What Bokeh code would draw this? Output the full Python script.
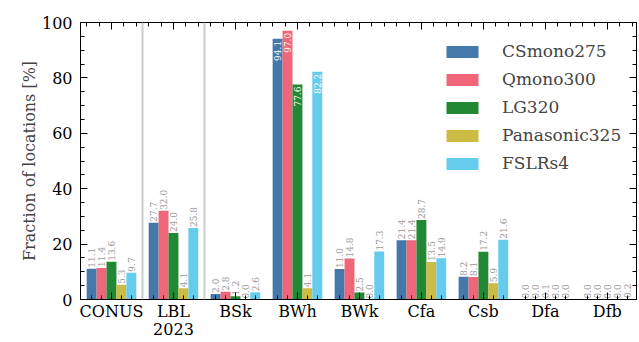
import numpy as np
from bokeh.plotting import figure
from bokeh.models import (Range1d, FixedTicker, LinearAxis, Span,
                          Legend, LegendItem, ColumnDataSource)
from bokeh.core.properties import value
from bokeh.embed import file_html
from bokeh.resources import INLINE

categories = ["CONUS", "LBL\n2023", "BSk", "BWh", "BWk", "Cfa", "Csb", "Dfa", "Dfb"]
series = ["CSmono275", "Qmono300", "LG320", "Panasonic325", "FSLRs4"]
csmono275 = [11.1, 27.7, 2.0, 94.1, 11.0, 21.4, 8.2, 0.0, 0.0]
qmono300 = [11.4, 32.0, 2.8, 97.0, 14.8, 21.4, 8.1, 0.0, 0.0]
lg320 = [13.6, 24.0, 1.2, 77.6, 2.5, 28.7, 17.2, 0.1, 0.0]
panasonic325 = [5.3, 4.1, 0.0, 4.1, 0.0, 13.5, 5.9, 0.0, 0.0]
fslrs4 = [9.7, 25.8, 2.6, 82.2, 17.3, 14.9, 21.6, 0.0, 0.2]
values = [csmono275, qmono300, lg320, panasonic325, fslrs4]
colors = ["#4477AA", "#EE6677", "#228833", "#CCBB44", "#66CCEE"]
y_ticks = [0, 20, 40, 60, 80, 100]

FONT = "DejaVu Serif"
bar_w = 0.16
offsets = [-0.32, -0.16, 0.0, 0.16, 0.32]

p = figure(width=639, height=342, output_backend="svg", toolbar_location=None,
           x_range=Range1d(-0.5, 8.47), y_range=Range1d(0, 100),
           min_border_left=80, min_border_right=3, min_border_top=22, min_border_bottom=43,
           x_axis_location=None, y_axis_location=None)
p.xgrid.visible = False
p.ygrid.visible = False
p.outline_line_color = "black"
p.outline_line_width = 1
p.background_fill_color = "white"
p.border_fill_color = "white"

for loc in [0.5, 1.5]:
    p.add_layout(Span(location=loc, dimension="height", line_color="#cccccc", line_width=2))

idx = np.arange(len(categories))
renderers = []
for s, vals, col, off in zip(series, values, colors, offsets):
    xs = idx + off
    r = p.vbar(x=xs, top=vals, width=bar_w, fill_color=col, line_color=None)
    renderers.append(r)
    v = np.array(vals)
    out = v < 50
    src_out = ColumnDataSource(dict(x=xs[out], y=v[out], t=[f"{a:.1f}" for a in v[out]]))
    src_in = ColumnDataSource(dict(x=xs[~out], y=v[~out], t=[f"{a:.1f}" for a in v[~out]]))
    p.text(x="x", y="y", text="t", source=src_out, angle=np.pi / 2, text_align="left",
           text_baseline="middle", text_font=value(FONT), text_font_size="9px",
           text_color="#999999", y_offset=-1)
    p.text(x="x", y="y", text="t", source=src_in, angle=np.pi / 2, text_align="right",
           text_baseline="middle", text_font=value(FONT), text_font_size="9px",
           text_color="white", y_offset=2)

def style_axis(ax, show_labels, size="16px"):
    ax.axis_line_color = "black"
    ax.major_tick_line_color = "black"
    ax.minor_tick_line_color = "black"
    ax.major_tick_in = 7
    ax.major_tick_out = 0
    ax.minor_tick_in = 4
    ax.minor_tick_out = 0
    ax.major_label_text_font = FONT
    ax.major_label_text_font_size = size
    ax.major_label_text_color = "black"
    if not show_labels:
        ax.major_label_standoff = 0

cat_ticks = list(range(len(categories)))
minor_bottom = [i + o for i in cat_ticks for o in offsets if o != 0]
bottom = LinearAxis(ticker=FixedTicker(ticks=cat_ticks, minor_ticks=minor_bottom))
bottom.major_label_overrides = {i: c for i, c in enumerate(categories)}
style_axis(bottom, True, "16px")
bottom.major_label_text_line_height = 0.95
bottom.major_label_standoff = 2
p.add_layout(bottom, "below")

top = LinearAxis(ticker=FixedTicker(ticks=cat_ticks,
                                    minor_ticks=[round(-0.4 + 0.2 * k, 2) for k in range(45)]))
style_axis(top, False)
top.major_label_overrides = {i: "" for i in cat_ticks}
p.add_layout(top, "above")

left = LinearAxis(ticker=FixedTicker(ticks=y_ticks, minor_ticks=list(range(0, 101, 5))),
                  axis_label="Fraction of locations [%]")
style_axis(left, True)
left.major_label_standoff = 8
left.axis_label_text_font = FONT
left.axis_label_text_font_size = "16px"
left.axis_label_text_font_style = "normal"
left.axis_label_standoff = 0
p.add_layout(left, "left")

right = LinearAxis(ticker=FixedTicker(ticks=y_ticks, minor_ticks=list(range(0, 101, 5))))
style_axis(right, False)
right.major_label_overrides = {t: "" for t in y_ticks}
p.add_layout(right, "right")

legend = Legend(items=[LegendItem(label=s, renderers=[r]) for s, r in zip(series, renderers)],
                location=(362, 126), label_text_font=FONT, label_text_font_size="17px",
                glyph_width=40, glyph_height=15, label_height=20, spacing=8,
                label_standoff=20, padding=10, border_line_color=None,
                background_fill_alpha=0)
p.add_layout(legend)

open("out.html", "w").write(file_html(p, INLINE))
